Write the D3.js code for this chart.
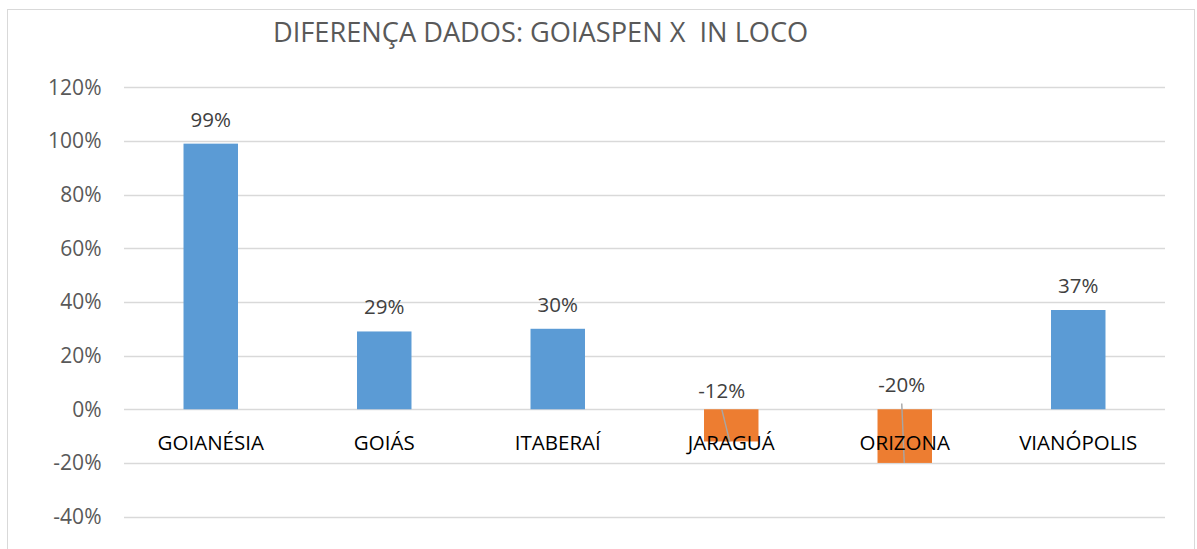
<!DOCTYPE html>
<html><head><meta charset="utf-8">
<script src="https://cdn.jsdelivr.net/npm/d3@7"></script>
<style>
html,body{margin:0;padding:0;background:#fff;}
svg{display:block;font-family:"Open Sans",sans-serif;}
</style></head>
<body>
<svg id="c" width="1197" height="549"></svg>
<script>
const categories = ["GOIANÉSIA","GOIÁS","ITABERAÍ","JARAGUÁ","ORIZONA","VIANÓPOLIS"];
const values = [0.99, 0.29, 0.30, -0.12, -0.20, 0.37];
const valueLabels = ["99%","29%","30%","-12%","-20%","37%"];
const yTicks = [-0.4,-0.2,0,0.2,0.4,0.6,0.8,1.0,1.2];
const title = "DIFERENÇA DADOS: GOIASPEN X  IN LOCO";

(function(){
const svg = d3.select("#c");
const pLeft = 124, pRight = 1165, pTop = 87.3, pBottom = 516.6;

svg.append("rect").attr("x",7.5).attr("y",9.5).attr("width",1187).attr("height",580)
  .attr("fill","#fff").attr("stroke","#d9d9d9").attr("stroke-width",1);

const x = d3.scaleBand().domain(categories).range([pLeft,pRight]).paddingInner(0.686).paddingOuter(0.343);
const y = d3.scaleLinear().domain([-0.4,1.2]).range([pBottom,pTop]);
const cx = i => x(categories[i]) + x.bandwidth()/2;

svg.append("g").selectAll("line").data(yTicks).join("line")
  .attr("x1",pLeft).attr("x2",pRight)
  .attr("y1",d=>Math.round(y(d))+0.5).attr("y2",d=>Math.round(y(d))+0.5)
  .attr("stroke","#d9d9d9").attr("stroke-width",1.3);

const yAxis = d3.axisLeft(y).tickValues(yTicks).tickSize(0).tickPadding(0)
  .tickFormat(d=>d3.format(".0%")(d).replace("−","-"));
const ya = svg.append("g").attr("transform",`translate(101.5,0)`).call(yAxis);
ya.select(".domain").remove();
ya.selectAll("text").attr("fill","#595959").attr("dy","0.32em")
  .style("font-size","21px").style("font-family","'Open Sans',sans-serif");

svg.append("g").selectAll("rect").data(values).join("rect")
  .attr("x",(d,i)=>x(categories[i]))
  .attr("width",x.bandwidth())
  .attr("y",d=>y(Math.max(0,d)))
  .attr("height",d=>Math.abs(y(d)-y(0)))
  .attr("fill",d=>d>=0?"#5b9bd5":"#ed7d31");

// value labels
const negOff = {3:{dx:-9.5, dy:-11, ex:-1.5}, 4:{dx:-3, dy:-16.8, ex:-0.5}};
const labelBaseline = (d,i)=> d>=0 ? y(d)-17 : y(0)+negOff[i].dy;
const labelX = (d,i)=> d>=0 ? cx(i) : cx(i)+negOff[i].dx;
svg.append("g").selectAll("text").data(values).join("text")
  .attr("x",labelX).attr("y",labelBaseline)
  .attr("text-anchor","middle").attr("fill","#404040")
  .style("font-size","20.5px")
  .text((d,i)=>valueLabels[i]);

// leader lines
svg.append("g").selectAll("line").data(values.map((d,i)=>({d,i})).filter(o=>o.d<0)).join("line")
  .attr("x1",o=>labelX(o.d,o.i)).attr("y1",o=>labelBaseline(o.d,o.i)+11)
  .attr("x2",o=>cx(o.i)+negOff[o.i].ex).attr("y2",o=>y(o.d))
  .attr("stroke","#a6a6a6").attr("stroke-width",1.4);

// category labels
const xa = svg.append("g").attr("transform",`translate(0,${y(0)})`)
  .call(d3.axisBottom(x).tickSize(0).tickPadding(0));
xa.select(".domain").remove();
xa.selectAll("text").attr("fill","#000").attr("dy",null).attr("y",40.5)
  .style("font-size","20.5px").style("font-family","'Open Sans',sans-serif");

svg.append("text").attr("x",273).attr("y",42).attr("fill","#595959")
  .style("font-size","27.2px").style("white-space","pre").text(title);
})();
</script>
</body></html>
